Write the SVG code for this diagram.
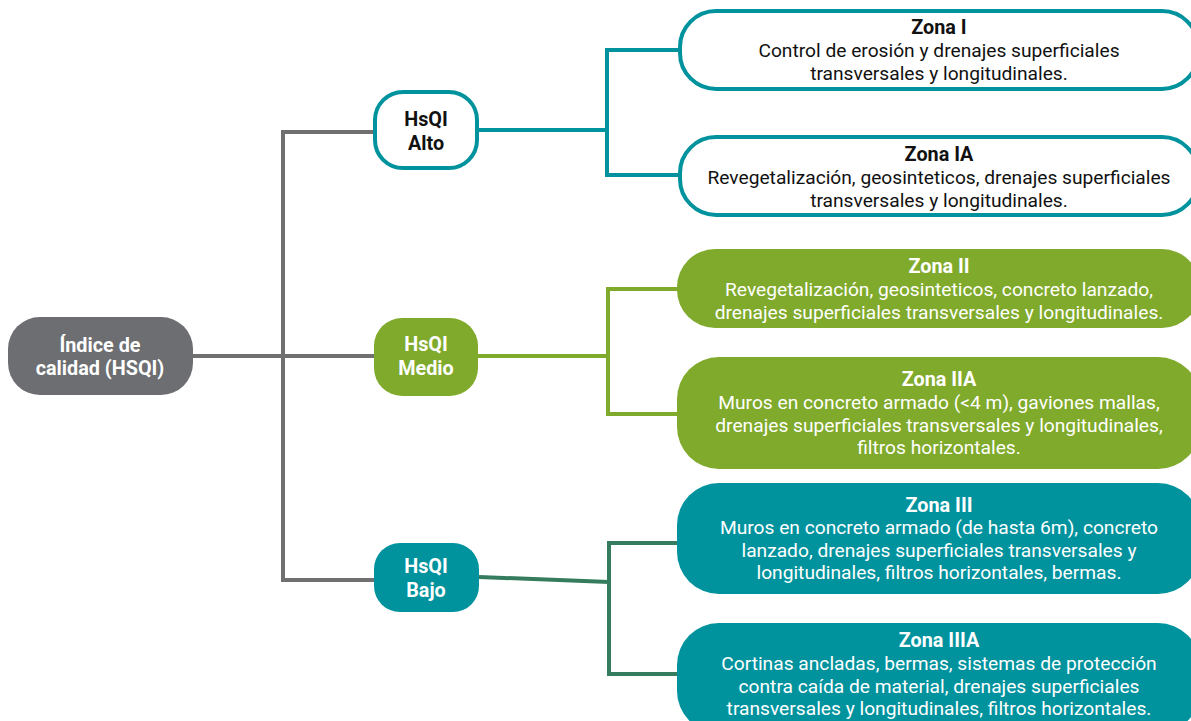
<svg xmlns="http://www.w3.org/2000/svg" width="1191" height="721" viewBox="0 0 1191 721">
<style>
text{font-family:Roboto,"Liberation Sans",sans-serif;font-size:19.2px;text-anchor:middle}
.b{font-weight:bold;font-size:19.8px}
.w{fill:#ffffff}
.k{fill:#111111}
.c{fill:none;stroke-width:4;stroke-linejoin:miter}
.grey{stroke:#707070}
.teal{stroke:#00939e}
.green{stroke:#80aa2b}
.dg{stroke:#357b5d}
</style>
<rect width="1191" height="721" fill="#ffffff"/>
<g id="connectors">
<path class="c grey" d="M193 356H374M373 132H283V580H374"/>
<path class="c teal" d="M478 130H607M680 50H607V175H680"/>
<path class="c green" d="M478 356H608M680 289H608V414H680"/>
<path class="c dg" d="M479 577L609 582M680 543H609V674H680"/>
</g>
<g id="root">
<rect x="8" y="317" width="185" height="78" rx="32" fill="#6d6e71"/>
<text class="b w" x="100" y="352">Índice de</text>
<text class="b w" x="100" y="375">calidad (HSQI)</text>
</g>
<g id="alto">
<rect x="375" y="92" width="102" height="76" rx="28" fill="#ffffff" stroke="#00939e" stroke-width="4"/>
<text class="b k" x="426" y="126">HsQI</text>
<text class="b k" x="426" y="150">Alto</text>
</g>
<g id="medio">
<rect x="374" y="318" width="104" height="78" rx="28" fill="#80aa2b"/>
<text class="b w" x="426" y="351">HsQI</text>
<text class="b w" x="426" y="375">Medio</text>
</g>
<g id="bajo">
<rect x="374" y="543" width="105" height="69" rx="26" fill="#00939e"/>
<text class="b w" x="426" y="573">HsQI</text>
<text class="b w" x="426" y="597">Bajo</text>
</g>
<g id="zona1">
<rect x="680" y="11" width="518" height="78" rx="36" fill="#ffffff" stroke="#00939e" stroke-width="4"/>
<text class="b k" x="939" y="34">Zona I</text>
<text class="k" x="939" y="57">Control de erosión y drenajes superficiales</text>
<text class="k" x="939" y="80">transversales y longitudinales.</text>
</g>
<g id="zona1a">
<rect x="680" y="137" width="518" height="78" rx="36" fill="#ffffff" stroke="#00939e" stroke-width="4"/>
<text class="b k" x="939" y="161">Zona IA</text>
<text class="k" x="939" y="184">Revegetalización, geosinteticos, drenajes superficiales</text>
<text class="k" x="939" y="207">transversales y longitudinales.</text>
</g>
<g id="zona2">
<rect x="677" y="249" width="523" height="79" rx="38" fill="#80aa2b"/>
<text class="b w" x="939" y="273">Zona II</text>
<text class="w" x="939" y="296">Revegetalización, geosinteticos, concreto lanzado,</text>
<text class="w" x="939" y="319">drenajes superficiales transversales y longitudinales.</text>
</g>
<g id="zona2a">
<rect x="677" y="357" width="523" height="112" rx="42" fill="#80aa2b"/>
<text class="b w" x="939" y="386">Zona IIA</text>
<text class="w" x="939" y="409">Muros en concreto armado (&lt;4 m), gaviones mallas,</text>
<text class="w" x="939" y="432">drenajes superficiales transversales y longitudinales,</text>
<text class="w" x="939" y="454">filtros horizontales.</text>
</g>
<g id="zona3">
<rect x="677" y="483" width="523" height="111" rx="42" fill="#00939e"/>
<text class="b w" x="939" y="512">Zona III</text>
<text class="w" x="939" y="534">Muros en concreto armado (de hasta 6m), concreto</text>
<text class="w" x="939" y="557">lanzado, drenajes superficiales transversales y</text>
<text class="w" x="939" y="579">longitudinales, filtros horizontales, bermas.</text>
</g>
<g id="zona3a">
<rect x="677" y="623" width="523" height="110" rx="42" fill="#00939e"/>
<text class="b w" x="939" y="647">Zona IIIA</text>
<text class="w" x="939" y="670">Cortinas ancladas, bermas, sistemas de protección</text>
<text class="w" x="939" y="693">contra caída de material, drenajes superficiales</text>
<text class="w" x="939" y="715">transversales y longitudinales, filtros horizontales.</text>
</g>
</svg>
